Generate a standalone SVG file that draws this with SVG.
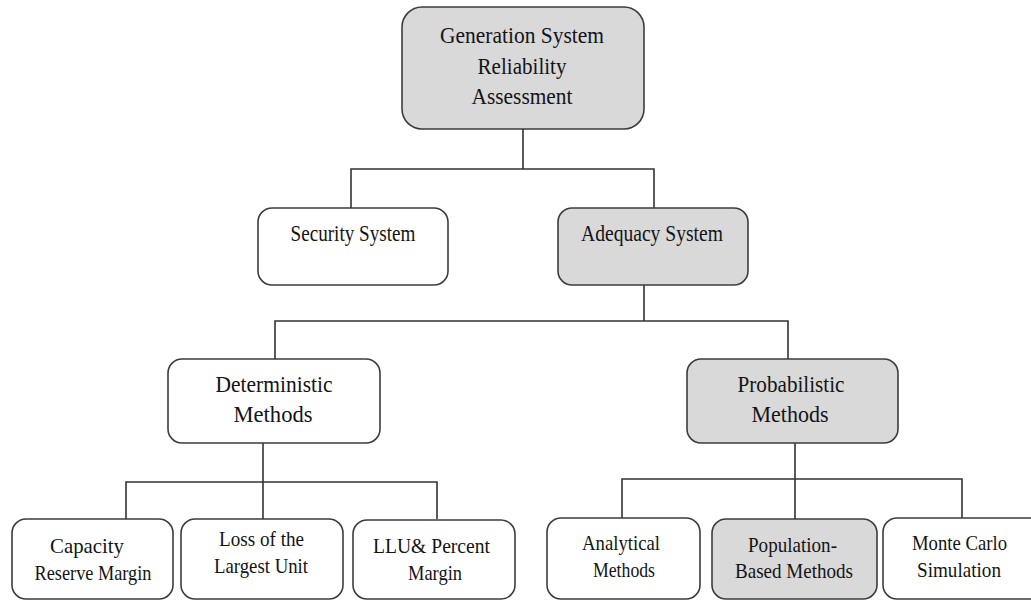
<svg xmlns="http://www.w3.org/2000/svg" width="1031" height="601" viewBox="0 0 1031 601">
<style>
.box{fill:#ffffff;stroke:#3c3c3c;stroke-width:1.6}
.grey{fill:#d9d9d9}
.lbl{font-size:23px;fill:#141414;text-anchor:middle}
.sm{font-size:22px}
.con{fill:none;stroke:#333333;stroke-width:1.6}
</style>
<rect width="1031" height="601" fill="#ffffff"/>
<g id="connectors" class="con">
<path d="M523,129 V169 M351,208 V169 H654 V208"/>
<path d="M644,285 V321 M275,359 V321 H788 V359"/>
<path d="M263,443 V519 M126,519 V482 H437 V519"/>
<path d="M795,443 V519 M622,518 V479 H962 V518"/>
</g>
<g font-family="'Liberation Serif', 'DejaVu Serif', serif">
<g id="n-root">
<rect class="box grey" x="402" y="7" width="242" height="122" rx="20"/>
<text class="lbl" x="522" y="43" textLength="164" lengthAdjust="spacingAndGlyphs">Generation System</text>
<text class="lbl" x="522" y="74" textLength="89" lengthAdjust="spacingAndGlyphs">Reliability</text>
<text class="lbl" x="522" y="104" textLength="101" lengthAdjust="spacingAndGlyphs">Assessment</text>
</g>
<g id="n-security">
<rect class="box" x="258" y="208" width="190" height="77" rx="14"/>
<text class="lbl" x="353" y="241" textLength="125" lengthAdjust="spacingAndGlyphs">Security System</text>
</g>
<g id="n-adequacy">
<rect class="box grey" x="558" y="208" width="190" height="77" rx="14"/>
<text class="lbl" x="652" y="241" textLength="142" lengthAdjust="spacingAndGlyphs">Adequacy System</text>
</g>
<g id="n-deterministic">
<rect class="box" x="168" y="359" width="212" height="84" rx="14"/>
<text class="lbl" x="274" y="392" textLength="117" lengthAdjust="spacingAndGlyphs">Deterministic</text>
<text class="lbl" x="273" y="422" textLength="79" lengthAdjust="spacingAndGlyphs">Methods</text>
</g>
<g id="n-probabilistic">
<rect class="box grey" x="687" y="359" width="211" height="84" rx="14"/>
<text class="lbl" x="791" y="392" textLength="107" lengthAdjust="spacingAndGlyphs">Probabilistic</text>
<text class="lbl" x="790" y="422" textLength="77" lengthAdjust="spacingAndGlyphs">Methods</text>
</g>
<g id="n-capacity">
<rect class="box" x="12" y="519" width="161" height="80" rx="14"/>
<text class="lbl sm" x="87" y="553" textLength="74" lengthAdjust="spacingAndGlyphs">Capacity</text>
<text class="lbl sm" x="93" y="580" textLength="117" lengthAdjust="spacingAndGlyphs">Reserve Margin</text>
</g>
<g id="n-loss">
<rect class="box" x="181" y="519" width="162" height="80" rx="14"/>
<text class="lbl sm" x="261.5" y="546" textLength="85" lengthAdjust="spacingAndGlyphs">Loss of the</text>
<text class="lbl sm" x="261" y="573" textLength="94" lengthAdjust="spacingAndGlyphs">Largest Unit</text>
</g>
<g id="n-llu">
<rect class="box" x="353" y="520" width="162" height="79" rx="14"/>
<text class="lbl sm" x="431.5" y="553" textLength="117" lengthAdjust="spacingAndGlyphs">LLU&amp; Percent</text>
<text class="lbl sm" x="435" y="580" textLength="54" lengthAdjust="spacingAndGlyphs">Margin</text>
</g>
<g id="n-analytical">
<rect class="box" x="547" y="518" width="153" height="81" rx="14"/>
<text class="lbl sm" x="621" y="550" textLength="78" lengthAdjust="spacingAndGlyphs">Analytical</text>
<text class="lbl sm" x="624" y="577" textLength="62" lengthAdjust="spacingAndGlyphs">Methods</text>
</g>
<g id="n-population">
<rect class="box grey" x="712" y="519" width="165" height="80" rx="14"/>
<text class="lbl sm" x="792.5" y="552" textLength="89" lengthAdjust="spacingAndGlyphs">Population-</text>
<text class="lbl sm" x="794" y="578" textLength="118" lengthAdjust="spacingAndGlyphs">Based Methods</text>
</g>
<g id="n-montecarlo">
<rect class="box" x="883" y="518" width="162" height="81" rx="14"/>
<text class="lbl sm" x="959.5" y="550" textLength="95" lengthAdjust="spacingAndGlyphs">Monte Carlo</text>
<text class="lbl sm" x="959" y="577" textLength="84" lengthAdjust="spacingAndGlyphs">Simulation</text>
</g>
</g>
</svg>
